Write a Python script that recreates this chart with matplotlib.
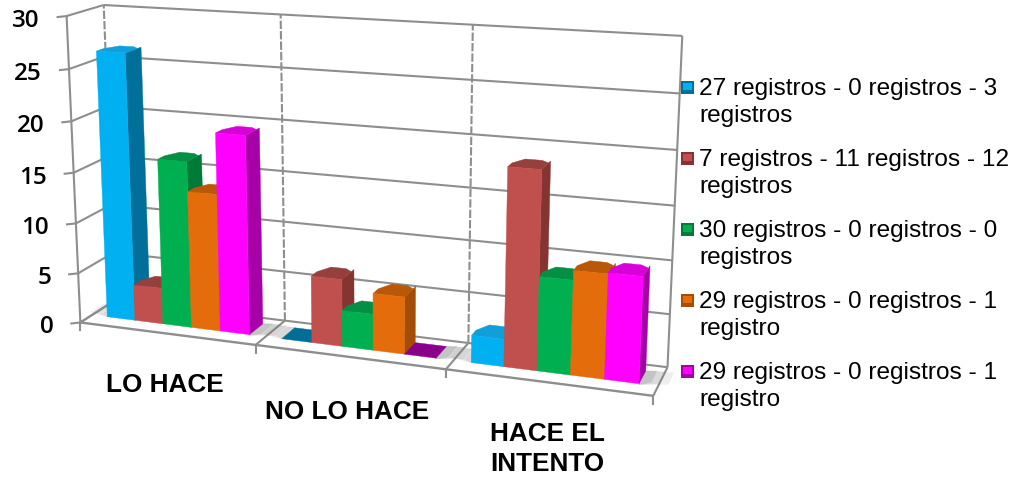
import matplotlib
matplotlib.use("Agg")
import matplotlib.pyplot as plt
import numpy as np

categories = ["LO HACE", "NO LO HACE", "HACE EL\nINTENTO"]
blue_vals = [26.4, 0, 2.6]
red_vals = [3.6, 6.5, 18.5]
green_vals = [16.4, 3.5, 8.8]
orange_vals = [13.5, 5.5, 9.7]
magenta_vals = [19.4, 0, 9.8]
yticks = [0, 5, 10, 15, 20, 25, 30]
legend_labels = [
    "27 registros - 0 registros - 3\nregistros",
    "7 registros - 11 registros - 12\nregistros",
    "30 registros - 0 registros - 0\nregistros",
    "29 registros - 0 registros - 1\nregistro",
    "29 registros - 0 registros - 1\nregistro",
]
series = [blue_vals, red_vals, green_vals, orange_vals, magenta_vals]
front_cols = ["#00B0F0", "#C0504D", "#00B050", "#E46C0A", "#FF00FF"]
side_cols = ["#00709A", "#853432", "#007A37", "#A34D07", "#A800A8"]
top_cols = ["#109FD8", "#96403D", "#058F44", "#B85808", "#D800D8"]
flat_cols = ["#006D96", "#853432", "#007A37", "#A34D07", "#8B008B"]

# fit the chart's perspective from the corners of the box: (cat, value, depth) -> pixel
# the two front-left corners are listed twice so the fit holds them closer
box_3d = [(0, 0, 0), (0, 0, 0), (0, 30, 0), (0, 30, 0), (0, 0, 1), (0, 30, 1), (3, 0, 0), (3, 0, 1), (3, 30, 1)]
box_px = [(82, 323), (82, 323), (65, 17), (65, 17), (112, 302), (107, 6), (653, 398), (668, 367), (682, 37)]
rows, rhs = [], []
for (a, b, c), (px, py) in zip(box_3d, box_px):
    rows.append([a, b, c, 1, 0, 0, 0, 0, -px * a, -px * b, -px * c])
    rhs.append(px)
    rows.append([0, 0, 0, 0, a, b, c, 1, -py * a, -py * b, -py * c])
    rhs.append(py)
H = np.append(np.linalg.lstsq(np.array(rows, float), np.array(rhs, float), rcond=None)[0], 1).reshape(3, 4)


def proj(u, v, w):
    p = H @ np.array([u, v, w, 1.0])
    return p[0] / p[2], p[1] / p[2]


def face(ax, pts, color, z=3, alpha=None):
    xy = [proj(*p) for p in pts]
    ax.fill([q[0] for q in xy], [q[1] for q in xy], color=color, lw=0.3, zorder=z, alpha=alpha)


def line3(ax, a, b, **kw):
    p, q = proj(*a), proj(*b)
    ax.plot([p[0], q[0]], [p[1], q[1]], solid_capstyle="butt", **kw)


fig = plt.figure(figsize=(10.23, 4.81), dpi=100)
ax = fig.add_axes([0, 0, 1, 1])
ax.set_xlim(0, 1023)
ax.set_ylim(481, 0)
ax.axis("off")

grid = "#8E8E8E"
lw_grid = 1.5
# walls
for v in yticks:
    line3(ax, (0, v, 0), (0, v, 1), color=grid, lw=lw_grid, zorder=1)
    line3(ax, (0, v, 1), (3, v, 1), color=grid, lw=lw_grid, zorder=1)
    p = proj(0, v, 0)
    ax.plot([p[0] - 9, p[0]], [p[1] + 1, p[1] - 0], color=grid, lw=lw_grid, zorder=1)
    ax.text(p[0] - 27, p[1] + 4, str(v), ha="right", va="center", fontsize=17.5,
            family="Open Sans", fontweight="semibold", color="black")
line3(ax, (0, 0, 0), (0, 30, 0), color=grid, lw=lw_grid, zorder=1)
line3(ax, (3, 0, 1), (3, 30, 1), color=grid, lw=lw_grid, zorder=1)
line3(ax, (0, 0, 1), (0, 30, 1), color=grid, lw=lw_grid, ls=(0, (4, 1)), zorder=1)
for u in [1, 2]:
    line3(ax, (u, 0, 1), (u, 30, 1), color=grid, lw=lw_grid, ls=(0, (4, 1)), zorder=1)

# floor
for u in [0, 1, 2, 3]:
    line3(ax, (u, 0, 0), (u, 0, 1), color=grid, lw=lw_grid, zorder=2)
    p = proj(u, 0, 0)
    ax.plot([p[0], p[0]], [p[1], p[1] + 8], color=grid, lw=lw_grid, zorder=2)
line3(ax, (0, 0, 0), (3, 0, 0), color=grid, lw=1.7, zorder=2)

# bars, left to right so each one hides the side of the one before
u_start, bar_w = 0.09, 0.164
w0, w1 = 0.33, 0.78
z = 4
for c in range(len(categories)):
    # soft shadow on the floor behind the cluster
    end = c + u_start + 5 * bar_w
    for k, a in zip([0.13, 0.09, 0.05], [0.12, 0.16, 0.22]):
        face(ax, [(end, 0, w0 - 0.03), (end + k, 0, w0 + 0.1), (end + k, 0, w1 + 0.05), (end, 0, w1)], "#777777", z=3, alpha=a)
    start = c + u_start
    for k in [0.12, 0.08, 0.04]:
        face(ax, [(start - k, 0, w0 + 0.1), (start, 0, w0), (start, 0, w1), (start - k, 0, w1)], "#777777", z=3, alpha=0.1)
    for s, vals in enumerate(series):
        v = vals[c]
        a = c + u_start + s * bar_w
        b = a + bar_w
        if v == 0:
            face(ax, [(a, 0, w0), (b, 0, w0), (b, 0, w1), (a, 0, w1)], flat_cols[s], z=z)
            z += 1
            continue
        face(ax, [(b, 0, w0), (b, 0, w1), (b, v, w1), (b, v, w0)], side_cols[s], z=z)
        # top face with slightly cut corners
        cut = 0.25 * bar_w
        face(ax, [(a, v, w0), (b, v, w0), (b, v, w1 - 0.1), (b - cut, v, w1), (a + cut, v, w1), (a, v, w1 - 0.25)], top_cols[s], z=z + 1)
        face(ax, [(a, 0, w0), (b, 0, w0), (b, v, w0), (a, v, w0)], front_cols[s], z=z + 2)
        z += 3

# category labels
label_pos = [(165, 385), (347, 412), (547, 449)]
for name, (x, y) in zip(categories, label_pos):
    ax.text(x, y, name, ha="center", va="center", fontsize=18.8, fontweight="bold",
            family="Liberation Sans", color="black", linespacing=1.33, zorder=50)

# legend
legend_y = [88, 159, 230, 301, 372]
for lab, y, fc, sc in zip(legend_labels, legend_y, front_cols, side_cols):
    ax.fill([681, 694, 694, 681], [y - 6.5, y - 6.5, y + 6.5, y + 6.5], color=sc, lw=0, zorder=60)
    ax.fill([683, 692, 692, 683], [y - 4, y - 4, y + 3, y + 3], color=fc, lw=0, zorder=61)
    ax.text(699, y + 14.5, lab, ha="left", va="center", fontsize=17.6, family="Liberation Sans",
            color="black", linespacing=1.25, zorder=60)

fig.savefig("out.png", dpi=100)
